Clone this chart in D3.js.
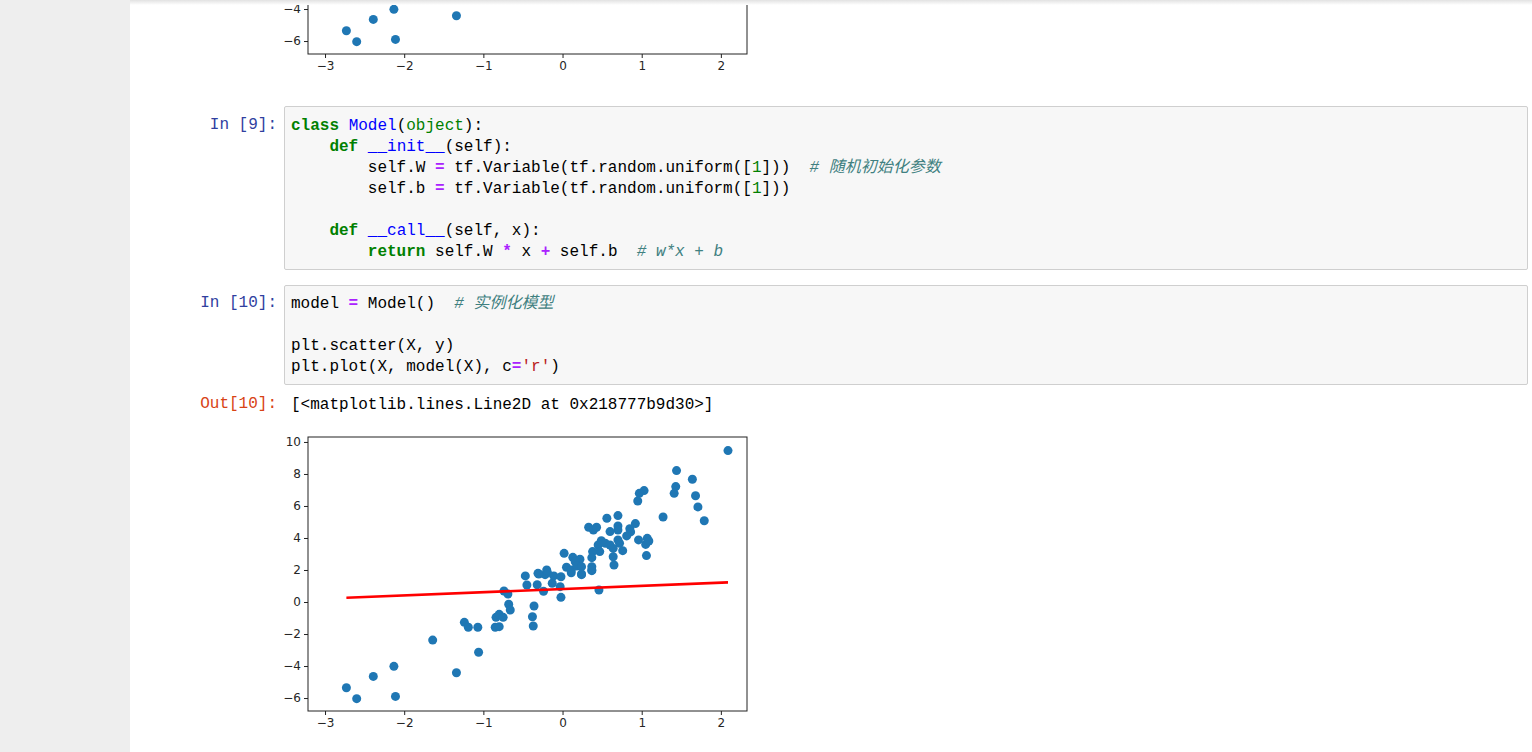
<!DOCTYPE html>
<html>
<head>
<meta charset="utf-8">
<script src="https://cdn.jsdelivr.net/npm/d3@7"></script>
<style>
  body { margin:0; width:1532px; height:752px; overflow:hidden; background:#eeeeee; position:relative; }
  #nb { position:absolute; left:130px; top:0; width:1402px; height:752px; background:#fff; }
  #shadow { position:absolute; left:130px; top:0; width:1402px; height:5px; background:linear-gradient(#e2e2e2,#fff); }
  .code { position:absolute; font-family:"Liberation Mono","DejaVu Sans Mono",monospace; font-size:16px; line-height:21px; white-space:pre; color:#000; }
  .box { position:absolute; background:#f7f7f7; border:1px solid #cfcfcf; border-radius:2px; }
  .pin { position:absolute; font-family:"Liberation Mono",monospace; font-size:16px; color:#303F9F; text-align:right; width:150px; }
  .pout { color:#D84315; }
  .k { color:#008000; font-weight:bold; }
  .nc { color:#0000FF; }
  .nb { color:#008000; }
  .nf { color:#0000FF; }
  .o { color:#AA22FF; font-weight:bold; }
  .m { color:#008000; }
  .c { color:#408080; font-style:italic; font-family:"Liberation Mono","Noto Sans CJK SC",monospace; }
  .s { color:#BA2121; }
  svg { position:absolute; left:0; top:0; }
</style>
</head>
<body>
<div id="nb"></div>
<div class="box" style="left:284px;top:106px;width:1242px;height:162px;"></div>
<div class="box" style="left:284px;top:285px;width:1242px;height:98px;"></div>
<div class="pin" style="left:127px;top:116px;">In [9]:</div>
<div class="code" style="left:291px;top:116px;"><span class="k">class</span> <span class="nc">Model</span>(<span class="nb">object</span>):
    <span class="k">def</span> <span class="nf">__init__</span>(self):
        self.W <span class="o">=</span> tf.Variable(tf.random.uniform([<span class="m">1</span>]))  <span class="c"># 随机初始化参数</span>
        self.b <span class="o">=</span> tf.Variable(tf.random.uniform([<span class="m">1</span>]))

    <span class="k">def</span> <span class="nf">__call__</span>(self, x):
        <span class="k">return</span> self.W <span class="o">*</span> x <span class="o">+</span> self.b  <span class="c"># w*x + b</span></div>
<div class="pin" style="left:127px;top:294px;">In [10]:</div>
<div class="code" style="left:291px;top:294px;">model <span class="o">=</span> Model()  <span class="c"># 实例化模型</span>

plt.scatter(X, y)
plt.plot(X, model(X), c<span class="o">=</span><span class="s">'r'</span>)</div>
<div class="pin pout" style="left:127px;top:395px;">Out[10]:</div>
<div class="code" style="left:291px;top:395px;">[&lt;matplotlib.lines.Line2D at 0x218777b9d30&gt;]</div>
<div id="shadow"></div>
<script>
// scatter data
var xs = [-2.73,-2.60,-2.39,-2.13,-2.11,-1.64,-1.34,-1.24,-1.19,-1.07,-1.06,-0.85,-0.84,-0.80,-0.80,-0.75,-0.74,-0.69,-0.68,-0.66,
  -0.47,-0.45,-0.38,-0.37,-0.36,-0.32,-0.30,-0.24,-0.22,-0.19,-0.13,-0.11,-0.03,-0.02,-0.02,0.24,0.37,0.46,0.11,
  2.09,1.44,1.43,1.41,1.64,1.68,1.71,1.79,1.27,1.03,0.97,0.95,0.92,0.85,0.86,0.81,0.96,1.07,1.05,1.09,1.06,
  0.70,0.70,0.70,0.56,0.33,0.39,0.43,0.60,0.49,0.45,0.54,0.60,0.70,0.72,0.64,0.76,0.47,0.38,0.37,0.64,0.65,0.37,0.37,
  0.02,0.13,0.22,0.16,0.05,0.11,0.18,0.24,0.24,-0.31,-0.20];
var ys = [-5.36,-6.04,-4.65,-4.02,-5.90,-2.38,-4.42,-1.27,-1.58,-1.58,-3.14,-1.58,-0.96,-0.77,-1.54,-0.96,0.69,0.50,-0.14,-0.50,
  1.63,1.06,-0.92,-1.50,-0.25,1.08,1.75,0.67,1.71,1.83,1.17,1.63,0.96,0.29,1.58,1.71,1.96,0.75,1.83,
  9.46,8.21,7.21,6.79,7.67,6.64,5.94,5.08,5.31,6.96,6.79,6.31,4.90,4.58,4.38,4.13,3.88,3.98,3.60,3.81,2.90,
  5.40,4.75,4.50,5.23,4.67,4.50,4.67,4.40,3.83,3.56,3.67,3.56,3.88,3.67,3.35,3.21,3.15,3.15,2.77,2.83,2.31,2.21,2.00,
  3.04,2.79,2.67,2.52,2.17,2.00,2.25,2.21,1.75,1.79,2.00];
var lineW = 0.199, lineB = 0.81;
var xTicks = [-3,-2,-1,0,1,2];
var yTicks = [-6,-4,-2,0,2,4,6,8,10];

var svg = d3.select("body").append("svg").attr("width",1532).attr("height",752);
var x = d3.scaleLinear().domain([-3.215,2.33]).range([308,747]);
var y = d3.scaleLinear().domain([-6.81,10.31]).range([711,437]);
var fmt = function(d){ return String(d).replace("-","\u2212"); };

function chart(dy, withLine) {
  var g = svg.append("g").attr("transform","translate(0,"+dy+")");
  g.selectAll("circle").data(xs).enter().append("circle")
    .attr("cx", function(d){ return x(d); })
    .attr("cy", function(d,i){ return y(ys[i]); })
    .attr("r", 4.5).attr("fill","#1f77b4");
  if (withLine) {
    var ext = d3.extent(xs);
    g.append("path").datum(ext)
      .attr("d", d3.line().x(function(d){ return x(d); }).y(function(d){ return y(lineW*d+lineB); }))
      .attr("stroke","red").attr("stroke-width",2.6).attr("fill","none");
  }
  g.append("rect").attr("x",308).attr("y",437).attr("width",439).attr("height",274)
    .attr("fill","none").attr("stroke","#222").attr("stroke-width",1);
  var ax = g.append("g").attr("transform","translate(0,711)")
    .call(d3.axisBottom(x).tickValues(xTicks).tickSize(4).tickFormat(fmt));
  var ay = g.append("g").attr("transform","translate(308,0)")
    .call(d3.axisLeft(y).tickValues(yTicks).tickSize(4).tickFormat(fmt));
  [ax, ay].forEach(function(a){
    a.select(".domain").remove();
    a.selectAll("text").attr("font-family","DejaVu Sans").attr("font-size","12px").attr("fill","#262626");
    a.selectAll("line").attr("stroke","#222");
  });
}
chart(-657, false);
chart(0, true);
svg.append("rect").attr("x",0).attr("y",0).attr("width",130).attr("height",752).attr("fill","#eeeeee");
d3.select("#shadow").raise();
</script>
</body>
</html>
